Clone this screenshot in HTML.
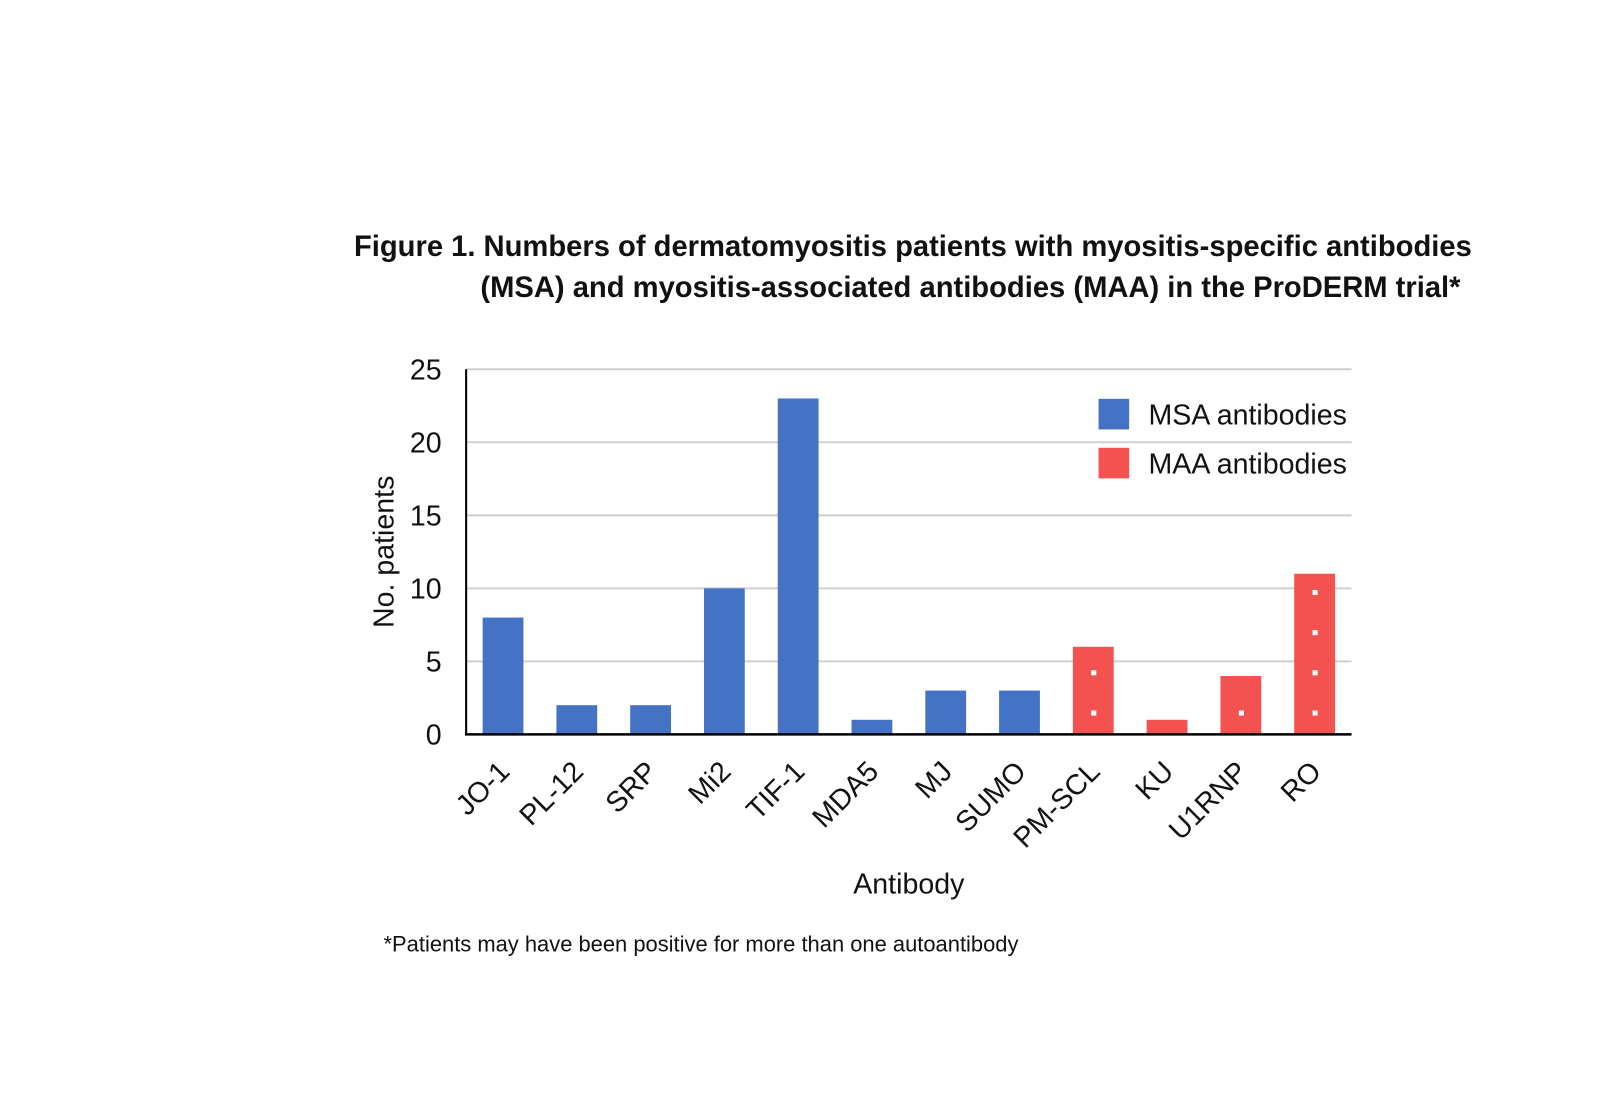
<!DOCTYPE html>
<html><head><meta charset="utf-8"><style>
body{margin:0;background:#fff;width:1600px;height:1107px;overflow:hidden;font-family:"Liberation Sans",Arial,sans-serif}
</style></head><body>
<svg width="1600" height="1107" xmlns="http://www.w3.org/2000/svg" font-family="Liberation Sans, Arial, sans-serif">
<g transform="scale(1.02)">
<text x="347" y="251" font-size="28.6" font-weight="bold" fill="#111">Figure 1. Numbers of dermatomyositis patients with myositis-specific antibodies</text>
<text x="471" y="291" font-size="28.6" font-weight="bold" fill="#111">(MSA) and myositis-associated antibodies (MAA) in the ProDERM trial*</text>
<g id="grid"></g><g id="bars"></g><g id="xlabels"></g><g id="ylabels"></g>
<line x1="457" y1="362" x2="457" y2="720" stroke="#000" stroke-width="2"/>
<line x1="456" y1="720" x2="1325" y2="720" stroke="#000" stroke-width="2.5"/>
<text transform="translate(386,541) rotate(-90)" text-anchor="middle" font-size="28" fill="#111">No. patients</text>
<text x="891" y="876" text-anchor="middle" font-size="28" fill="#111">Antibody</text>
<g>
<rect x="1077" y="391" width="30" height="30" fill="#4472c4"/>
<text x="1126" y="416" font-size="28" fill="#111">MSA antibodies</text>
<rect x="1077" y="439" width="30" height="30" fill="#f45151"/>
<text x="1126" y="464" font-size="28" fill="#111">MAA antibodies</text>
</g>
<text x="376" y="933" font-size="21.5" fill="#111">*Patients may have been positive for more than one autoantibody</text>
</g>
</svg>
<script>
const categories=["JO-1","PL-12","SRP","Mi2","TIF-1","MDA5","MJ","SUMO","PM-SCL","KU","U1RNP","RO"];
const values=[8,2,2,10,23,1,3,3,6,1,4,11];
const groups=["MSA","MSA","MSA","MSA","MSA","MSA","MSA","MSA","MAA","MAA","MAA","MAA"];
const yTicks=[0,5,10,15,20,25];
const NS="http://www.w3.org/2000/svg";
const x0=457,x1=1325,y0=720,yTop=362,yMax=25;
const band=(x1-x0)/categories.length;
const xc=i=>x0+band*(i+0.5);
const y=v=>y0-(v/yMax)*(y0-yTop);
function mk(t,a,p){const e=document.createElementNS(NS,t);for(const k in a)e.setAttribute(k,a[k]);document.getElementById(p).appendChild(e);return e;}
yTicks.forEach(v=>{
 if(v>0){const l=mk("line",{x1:x0,x2:x1,y1:y(v),y2:y(v),stroke:"#d0d0d0","stroke-width":2},"grid");
 
 }
 const t=mk("text",{x:433,y:y(v)+10,"text-anchor":"end","font-size":28,fill:"#111"},"ylabels");t.textContent=v;
 
 
});
categories.forEach((c,i)=>{
 const r=mk("rect",{x:xc(i)-20,y:y(values[i]),width:40,height:y0-y(values[i]),fill:groups[i]==="MSA"?"#4472c4":"#f45151"},"bars");
 
 
 if(groups[i]==="MAA"){for(let v=1.5;v<values[i];v+=2.75){const d=mk("rect",{x:xc(i)-2,y:y(v)-2,width:5,height:5,fill:"#fff"},"bars");
  
  }}
 const t=mk("text",{transform:`translate(${xc(i)+8},${y0+38}) rotate(-45)`,"text-anchor":"end","font-size":28,fill:"#111"},"xlabels");
 t.textContent=c;
 
 
});
</script>
</body></html>
